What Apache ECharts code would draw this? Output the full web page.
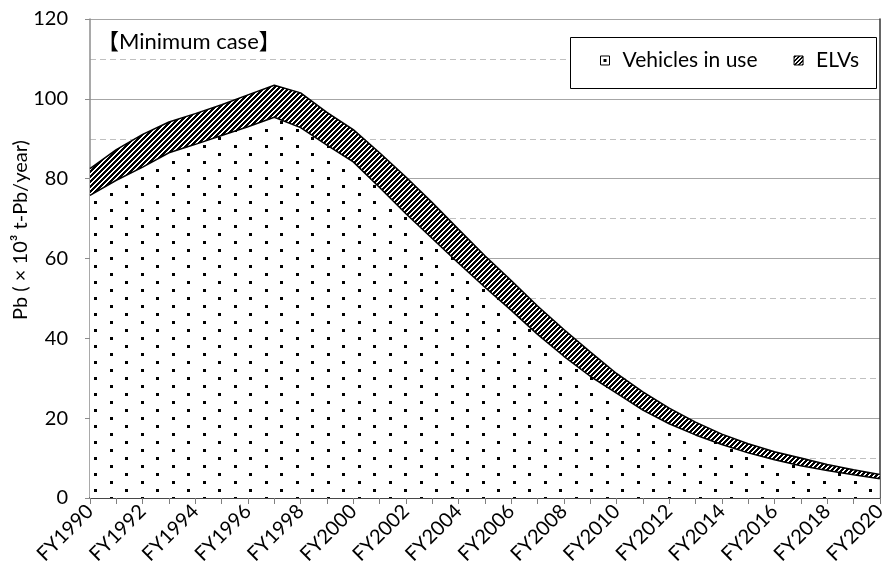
<!DOCTYPE html>
<html>
<head>
<meta charset="utf-8">
<script src="https://cdn.jsdelivr.net/npm/echarts@6/dist/echarts.min.js"></script>
<style>html,body{margin:0;padding:0;background:#fff;}#c{width:889px;height:583px;}</style>
</head>
<body>
<div id="c"></div>
<script>
// ---- data ----
const years = ["FY1990","FY1991","FY1992","FY1993","FY1994","FY1995","FY1996","FY1997","FY1998","FY1999",
  "FY2000","FY2001","FY2002","FY2003","FY2004","FY2005","FY2006","FY2007","FY2008","FY2009",
  "FY2010","FY2011","FY2012","FY2013","FY2014","FY2015","FY2016","FY2017","FY2018","FY2019","FY2020"];
const vehiclesInUse = [75.8,79.6,82.9,86.5,88.6,90.8,93.0,95.4,92.8,88.4,
  84.2,77.8,71.2,65.0,58.8,52.8,47.0,41.0,35.5,30.5,
  26.3,22.0,18.6,15.8,13.4,11.3,9.6,8.1,6.9,5.8,4.8];
const elvs = [6.7,7.7,8.2,7.7,7.7,7.7,8.0,8.0,8.7,8.2,
  8.1,8.7,9.2,9.0,8.5,7.9,7.5,7.1,6.7,6.1,
  4.9,4.6,3.9,3.2,2.6,2.3,2.0,1.9,1.5,1.3,1.1];
const yTicks = [0,20,40,60,80,100,120];
const seriesNames = ["Vehicles in use","ELVs"];
const titleText = "【Minimum case】";
const yName = "Pb ( × 10³ t-Pb/year)";

// ---- patterns ----
function dotTile(w, h, dots, size) {
  const c = document.createElement('canvas'); c.width = w; c.height = h;
  const g = c.getContext('2d'); g.fillStyle = '#fff'; g.fillRect(0,0,w,h);
  g.fillStyle = '#000';
  dots.forEach(d => g.fillRect(d[0], d[1], size, size));
  return c;
}
function stripeTile(p, on) {
  const c = document.createElement('canvas'); c.width = p; c.height = p;
  const g = c.getContext('2d'); const img = g.createImageData(p, p);
  for (let y = 0; y < p; y++) for (let x = 0; x < p; x++) {
    const k = (x + y) % p; const v = k < on ? 0 : 255; const i = (y*p + x)*4;
    img.data[i]=v; img.data[i+1]=v; img.data[i+2]=v; img.data[i+3]=255;
  }
  g.putImageData(img, 0, 0); return c;
}
const dotPattern = { image: dotTile(31, 16, [[1,9],[17,1]], 3), repeat: 'repeat' };
const stripePattern = { image: stripeTile(5, 3), repeat: 'repeat' };
const legendDot = { image: dotTile(9, 9, [[3,3]], 3), repeat: 'repeat' };
const legendStripe = { image: stripeTile(4, 2), repeat: 'repeat' };

const FONT = "Lato, 'Noto Sans CJK JP', sans-serif";
const chart = echarts.init(document.getElementById('c'), null, { renderer: 'canvas' });
chart.setOption({
  backgroundColor: '#fff',
  animation: false,
  grid: { left: 90, right: 7, top: 19, bottom: 85, containLabel: false },
  legend: {
    left: 600, top: 50, z: 6,
    padding: 0,
    itemWidth: 9, itemHeight: 9, itemGap: 36,
    icon: 'rect',
    textStyle: { fontFamily: FONT, fontSize: 21, color: '#000', padding: [0,0,0,8] },
    data: [
      { name: seriesNames[0], itemStyle: { color: legendDot, borderColor: '#000', borderWidth: 1 } },
      { name: seriesNames[1], itemStyle: { color: legendStripe, borderColor: '#000', borderWidth: 1 } }
    ]
  },
  xAxis: [{
    type: 'category', data: years, boundaryGap: false,
    axisLine: { lineStyle: { color: '#7f7f7f', width: 1.5 } },
    axisTick: { show: true, interval: 0, length: 6, lineStyle: { color: '#7f7f7f' } },
    axisLabel: { interval: 1, rotate: 45, fontFamily: FONT, fontSize: 20, color: '#000', margin: 10 },
    splitLine: { show: false }
  }, {
    type: 'category', data: years, boundaryGap: false, position: 'top',
    axisLine: { lineStyle: { color: '#333', width: 1.5 } },
    axisTick: { show: false }, axisLabel: { show: false }, splitLine: { show: false }
  }],
  yAxis: [{
    type: 'value', min: yTicks[0], max: yTicks[yTicks.length-1], interval: 20,
    axisLine: { show: true, lineStyle: { color: '#8c8c8c', width: 1.5 } },
    axisTick: { show: true, length: 5, lineStyle: { color: '#8c8c8c' } },
    axisLabel: { fontFamily: FONT, fontSize: 20, color: '#000', margin: 22 },
    splitLine: { show: true, lineStyle: { color: '#a6a6a6', width: 1.2 } },
    minorTick: { show: false, splitNumber: 2 },
    minorSplitLine: { show: true, lineStyle: { color: '#c0c0c0', type: [6, 4], width: 1.2 } }
  }, {
    type: 'value', min: yTicks[0], max: yTicks[yTicks.length-1], interval: 20, position: 'right',
    axisLine: { show: true, lineStyle: { color: '#333', width: 1.5 } },
    axisTick: { show: false }, axisLabel: { show: false }, splitLine: { show: false }
  }],
  series: [{
    name: seriesNames[0], type: 'line', stack: 'total', data: vehiclesInUse,
    symbol: 'none', lineStyle: { color: '#000', width: 1.5 },
    itemStyle: { color: dotPattern },
    areaStyle: { color: dotPattern, opacity: 1 }, z: 3
  }, {
    name: seriesNames[1], type: 'line', stack: 'total', data: elvs,
    symbol: 'none', lineStyle: { color: '#000', width: 1.5 },
    itemStyle: { color: stripePattern },
    areaStyle: { color: stripePattern, opacity: 1 }, z: 3
  }],
  graphic: [{
    type: 'rect', z: 5, shape: { x: 570.5, y: 37.5, width: 306, height: 51 },
    style: { fill: '#fff', stroke: '#000', lineWidth: 1 }
  }, {
    type: 'text', left: 97, top: 31, z: 10,
    style: { text: titleText, fontFamily: FONT, fontSize: 22, fill: '#000' }
  }, {
    type: 'text', x: 21, y: 230, rotation: Math.PI/2, z: 10,
    style: { text: yName, fontFamily: FONT, fontSize: 20, fill: '#000', align: 'center', verticalAlign: 'middle' }
  }]
});
</script>
</body>
</html>
